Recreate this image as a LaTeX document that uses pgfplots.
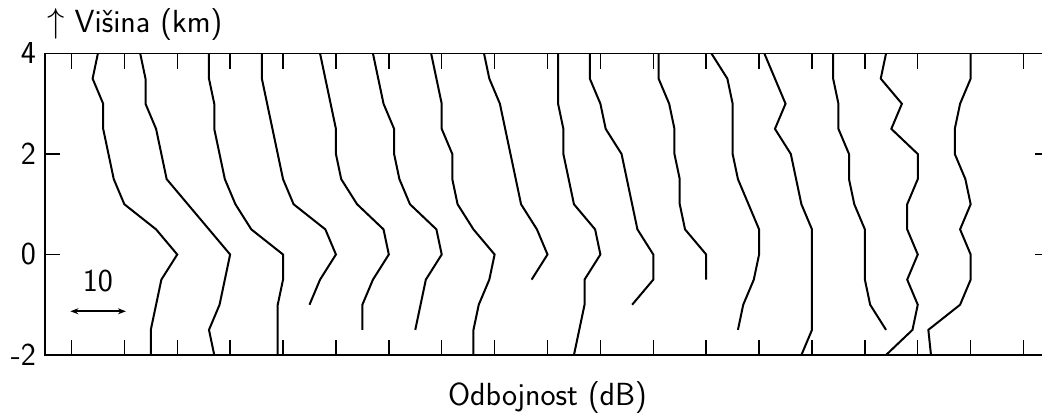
\documentclass[border=0pt]{standalone}
\usepackage{pgfplots}
\pgfplotsset{compat=1.18}
\usetikzlibrary{arrows.meta}
\renewcommand{\familydefault}{\sfdefault}
\newcommand{\chartfont}{\fontsize{16}{19}\selectfont\sffamily}
\begin{document}
\begin{tikzpicture}
\begin{axis}[
  scale only axis,
  width=502.5pt, height=150.75pt,
  xmin=-5, xmax=185, ymin=-2, ymax=4,
  xtick={0,10,...,180}, xticklabels={},
  ytick={-2,0,2,4}, yticklabels={-2,0,2,4},
  tick align=inside,
  major tick length=7.5pt,
  axis line style={line width=0.75pt},
  every tick/.style={black, line width=0.7pt},
  tick label style={font=\chartfont},
  yticklabel style={xshift=-1pt},
  clip=false,
  prof/.style={black, line width=1pt, mark=none},
]
\coordinate (SW) at (rel axis cs:0,0);
\coordinate (NE) at (rel axis cs:1,1);
\coordinate (NW) at (rel axis cs:0,1);
\coordinate (S) at (rel axis cs:0.5,0);

\addplot[prof] coordinates {(5,4) (4,3.5) (6,3) (6,2.5) (7,2) (8,1.5) (10,1) (16,0.5) (20,0) (17,-0.5) (16,-1) (15,-1.5) (15,-2)};
\addplot[prof] coordinates {(13,4) (14,3.5) (14,3) (16,2.5) (17,2) (18,1.5) (22,1) (26,0.5) (30,0) (29,-0.5) (28,-1) (26,-1.5) (27,-2)};
\addplot[prof] coordinates {(26,4) (26,3.5) (27,3) (27,2.5) (28,2) (29,1.5) (31,1) (34,0.5) (40,0) (40,-0.5) (39,-1) (39,-1.5) (39,-2)};
\addplot[prof] coordinates {(36,4) (36,3.5) (37,3) (38,2.5) (39,2) (40,1.5) (42,1) (48,0.5) (50,0) (47,-0.5) (45,-1)};
\addplot[prof] coordinates {(47,4) (48,3.5) (49,3) (50,2.5) (50,2) (51,1.5) (54,1) (59,0.5) (60,0) (57,-0.5) (55,-1) (55,-1.5)};
\addplot[prof] coordinates {(57,4) (58,3.5) (59,3) (61,2.5) (61,2) (62,1.5) (64,1) (69,0.5) (70,0) (67,-0.5) (66,-1) (65,-1.5)};
\addplot[prof] coordinates {(68,4) (69,3.5) (70,3) (70,2.5) (72,2) (72,1.5) (73,1) (76,0.5) (80,0) (79,-0.5) (77,-1) (76,-1.5) (76,-2)};
\addplot[prof] coordinates {(78,4) (79,3.5) (81,3) (82,2.5) (83,2) (84,1.5) (85,1) (88,0.5) (90,0) (87,-0.5)};
\addplot[prof] coordinates {(92,4) (92,3.5) (92,3) (93,2.5) (93,2) (94,1.5) (95,1) (99,0.5) (100,0) (97,-0.5) (97,-1) (96,-1.5) (95,-2)};
\addplot[prof] coordinates {(98,4) (98,3.5) (100,3) (101,2.5) (104,2) (105,1.5) (106,1) (107,0.5) (110,0) (110,-0.5) (106,-1)};
\addplot[prof] coordinates {(111,4) (111,3.5) (113,3) (114,2.5) (114,2) (115,1.5) (115,1) (116,0.5) (120,0) (120,-0.5)};
\addplot[prof] coordinates {(121,4) (124,3.5) (125,3) (125,2.5) (125,2) (126,1.5) (128,1) (130,0.5) (130,0) (129,-0.5) (127,-1) (126,-1.5)};
\addplot[prof] coordinates {(131,4) (133,3.5) (135,3) (133,2.5) (136,2) (137,1.5) (138,1) (140,0.5) (140,0) (140,-0.5) (140,-1) (140,-1.5) (138,-2)};
\addplot[prof] coordinates {(144,4) (144,3.5) (145,3) (145,2.5) (147,2) (147,1.5) (148,1) (150,0.5) (150,0) (150,-0.5) (151,-1) (154,-1.5)};
\addplot[prof] coordinates {(154,4) (153,3.5) (157,3) (155,2.5) (160,2) (160,1.5) (158,1) (158,0.5) (160,0) (158,-0.5) (160,-1) (159,-1.5) (154,-2)};
\addplot[prof] coordinates {(170,4) (170,3.5) (168,3) (167,2.5) (167,2) (169,1.5) (170,1) (168,0.5) (170,0) (170,-0.5) (168,-1) (162,-1.5) (162.5,-2)};

\draw[{Stealth[length=4pt,width=3pt]}-{Stealth[length=4pt,width=3pt]}, line width=0.8pt] (axis cs:-0.2,-1.13) -- (axis cs:10.3,-1.13);
\node[anchor=base, inner sep=0pt, font=\chartfont] at (axis cs:5,-0.74) {10};
\end{axis}
\node[anchor=base west, inner sep=0pt, font=\chartfont] at ([xshift=1pt,yshift=10.25pt]NW) {$\uparrow$ Višina (km)};
\node[anchor=base, inner sep=0pt, font=\chartfont] at ([yshift=-25.5pt]S) {Odbojnost (dB)};
\pgfresetboundingbox
\path ([xshift=-22.5pt,yshift=-29.5pt]SW) rectangle ([xshift=-4pt,yshift=26.75pt]NE);
\end{tikzpicture}
\end{document}
